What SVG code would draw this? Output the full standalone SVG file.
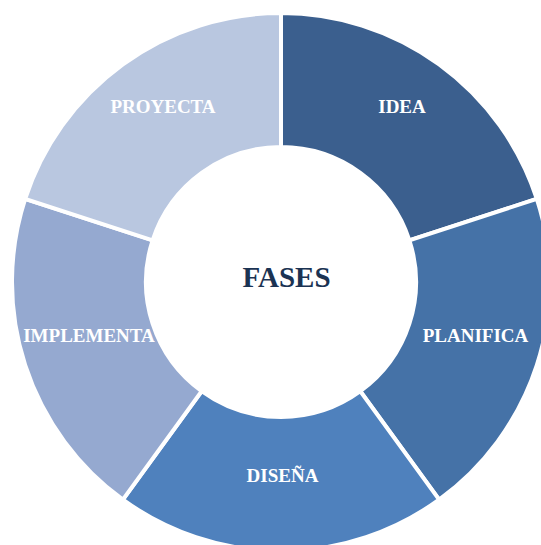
<svg xmlns="http://www.w3.org/2000/svg" width="541" height="545" viewBox="0 0 541 545">
<style>
.seg{stroke:#ffffff;stroke-width:4;stroke-linejoin:miter}
.lbl{font-family:"Liberation Serif","Times New Roman",serif;font-weight:bold;font-size:19px;fill:#ffffff;text-anchor:middle}
.ctr{font-family:"Liberation Serif","Times New Roman",serif;font-weight:bold;font-size:29px;fill:#1B3353;text-anchor:middle}
</style>
<rect width="541" height="545" fill="#ffffff"/>
<g id="idea">
<path class="seg" fill="#3B5F8E" d="M281,13 A269,269 0 0 1 536.83,198.87 L409.39,240.28 A135,135 0 0 0 281,147 Z"/>
<text class="lbl" x="402" y="113">IDEA</text>
</g>
<g id="planifica">
<path class="seg" fill="#4572A7" d="M536.83,198.87 A269,269 0 0 1 439.12,499.63 L360.35,391.22 A135,135 0 0 0 409.39,240.28 Z"/>
<text class="lbl" x="475.5" y="342">PLANIFICA</text>
</g>
<g id="disena">
<path class="seg" fill="#4F81BD" d="M439.12,499.63 A269,269 0 0 1 122.88,499.63 L201.65,391.22 A135,135 0 0 0 360.35,391.22 Z"/>
<text class="lbl" x="282.5" y="482">DISEÑA</text>
</g>
<g id="implementa">
<path class="seg" fill="#95A9D0" d="M122.88,499.63 A269,269 0 0 1 25.17,198.87 L152.61,240.28 A135,135 0 0 0 201.65,391.22 Z"/>
<text class="lbl" x="89" y="342">IMPLEMENTA</text>
</g>
<g id="proyecta">
<path class="seg" fill="#B9C7E0" d="M25.17,198.87 A269,269 0 0 1 281,13 L281,147 A135,135 0 0 0 152.61,240.28 Z"/>
<text class="lbl" x="163" y="113">PROYECTA</text>
</g>
<g id="connectors"></g>
<g id="fases">
<text class="ctr" x="286.5" y="287">FASES</text>
</g>
</svg>
